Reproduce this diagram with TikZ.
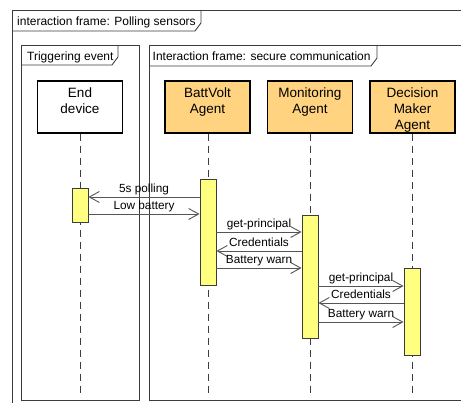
\documentclass[tikz,border=0pt]{standalone}
\usepackage{fontspec}
\setmainfont{Liberation Sans}
\usetikzlibrary{arrows.meta}

\definecolor{agentfill}{HTML}{FFD380}
\definecolor{actfill}{HTML}{FFFF80}
\definecolor{framecol}{HTML}{3C3C3C}
\definecolor{msgcol}{HTML}{555555}

\tikzset{
  frameline/.style={draw=framecol, line width=0.9pt},
  tabtext/.style={anchor=base west, inner sep=0pt, font=\fontsize{12}{14}\selectfont},
  headbox/.style={draw=black, line width=1.4pt, minimum width=85pt, minimum height=52pt, inner sep=0pt},
  enddev/.style={headbox, fill=white},
  agent/.style={headbox, fill=agentfill},
  headtext/.style={anchor=north, inner sep=0pt, align=center, font=\fontsize{13.5}{16}\selectfont},
  lifeline/.style={draw=framecol, line width=0.9pt, dash pattern=on 7pt off 5pt},
  actbox/.style={draw=framecol, line width=0.9pt, fill=actfill, minimum width=16pt, inner sep=0pt},
  msg/.style={draw=msgcol, line width=0.9pt, -{Straight Barb[length=10pt, width=11pt, line width=0.9pt]}},
  msglabel/.style={anchor=base, inner sep=0pt, yshift=4.5pt, font=\fontsize{11.8}{14}\selectfont}
}

\begin{document}
\begin{tikzpicture}[x=1pt, y=-1pt]
  \useasboundingbox (0,0) rectangle (461,403);
  \clip (0,0) rectangle (461,403);

  % outer frame with its tab
  \draw[frameline] (12,410) -- (12,10) -- (470,10);
  \draw[frameline] (12,31) -- (195,31) -- (201,23) -- (201,10);
  \node[tabtext] (tOuter) at (17,25.5) {interaction frame: Polling sensors};

  % frame: triggering event
  \draw[frameline] (21,45) rectangle (139,400);
  \draw[frameline] (21,65) -- (112,65) -- (118,57) -- (118,45);
  \node[tabtext] (tTrig) at (27,60.5) {Triggering event};

  % frame: secure communication
  \draw[frameline] (149,45) rectangle (470,400);
  \draw[frameline] (149,66) -- (371,66) -- (377,58) -- (377,45);
  \node[tabtext] (tSec) at (152.5,61) {Interaction frame: secure communication};

  % lifeline heads
  \node[enddev] (hE) at (80,107) {};
  \node[agent]  (hB) at (207.5,107) {};
  \node[agent]  (hM) at (310,107) {};
  \node[agent]  (hD) at (412.5,107) {};
  \node[headtext] (lE) at (80,88) {End\\device};
  \node[headtext] (lB) at (207.5,88) {BattVolt\\Agent};
  \node[headtext] (lM) at (310,88) {Monitoring\\Agent};
  \node[headtext] (lD) at (412.5,88) {Decision\\Maker\\Agent};

  % lifelines
  \coordinate (eE) at (80,393);
  \coordinate (eB) at (208,393);
  \coordinate (eM) at (310,393);
  \coordinate (eD) at (412,393);
  \draw[lifeline] (hE.south) -- (eE);
  \draw[lifeline] (hB.south -| eB) -- (eB);
  \draw[lifeline] (hM.south) -- (eM);
  \draw[lifeline] (hD.south -| eD) -- (eD);

  % activation bars
  \node[actbox, minimum height=34pt]  (aE) at (80,205) {};
  \node[actbox, minimum height=106pt] (aB) at (208,232) {};
  \node[actbox, minimum height=123pt] (aM) at (310,276.5) {};
  \node[actbox, minimum height=87pt]  (aD) at (412,311.5) {};

  % message levels
  \coordinate (y1) at (0,197);
  \coordinate (y2) at (0,214);
  \coordinate (y3) at (0,232);
  \coordinate (y4) at (0,251);
  \coordinate (y5) at (0,268);
  \coordinate (y6) at (0,286);
  \coordinate (y7) at (0,303);
  \coordinate (y8) at (0,322);

  % messages
  \draw[msg] (aB.west |- y1) -- (aE.east |- y1) node[msglabel, pos=0.5] {5s polling};
  \draw[msg] (aE.east |- y2) -- (aB.west |- y2) node[msglabel, pos=0.5] {Low battery};
  \draw[msg] (aB.east |- y3) -- (aM.west |- y3) node[msglabel, pos=0.5] {get-principal};
  \draw[msg] (aM.west |- y4) -- (aB.east |- y4) node[msglabel, pos=0.5] {Credentials};
  \draw[msg] (aB.east |- y5) -- (aM.west |- y5) node[msglabel, pos=0.5] {Battery warn};
  \draw[msg] (aM.east |- y6) -- (aD.west |- y6) node[msglabel, pos=0.5] {get-principal};
  \draw[msg] (aD.west |- y7) -- (aM.east |- y7) node[msglabel, pos=0.5] {Credentials};
  \draw[msg] (aM.east |- y8) -- (aD.west |- y8) node[msglabel, pos=0.5] {Battery warn};
\end{tikzpicture}
\end{document}
